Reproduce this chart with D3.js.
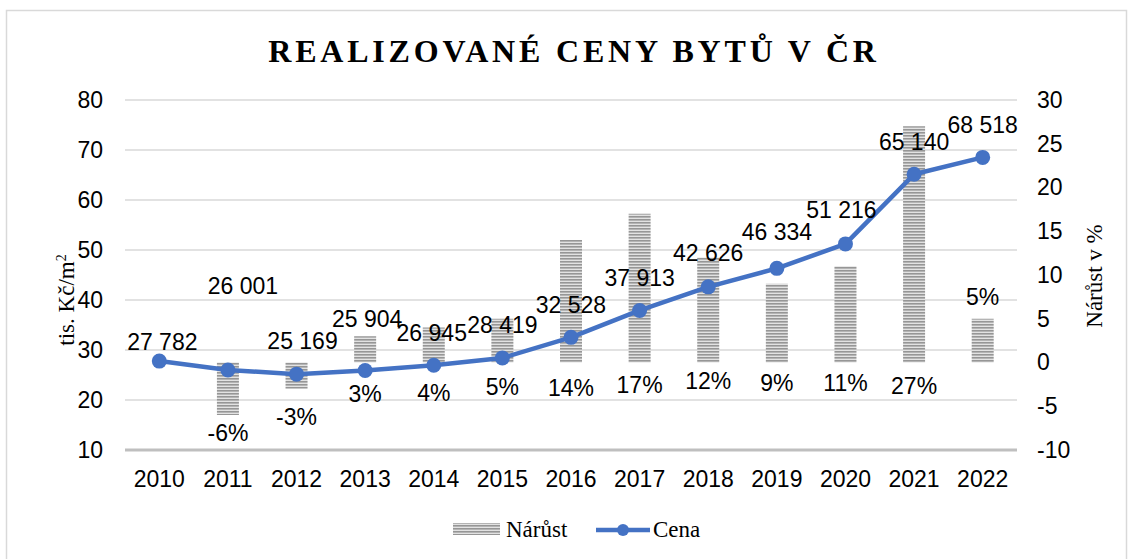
<!DOCTYPE html>
<html>
<head>
<meta charset="utf-8">
<script src="https://cdn.jsdelivr.net/npm/d3@7"></script>
<style>
  body { margin: 0; background: #fff; }
  svg text { fill: #000; }
  .sans { font-family: "Liberation Sans", Arial, sans-serif; }
  .serif { font-family: "Liberation Serif", "Times New Roman", serif; }
</style>
</head>
<body>
<svg id="chart"></svg>
<script>
const years   = ['2010','2011','2012','2013','2014','2015','2016','2017','2018','2019','2020','2021','2022'];
const prices  = [27782, 26001, 25169, 25904, 26945, 28419, 32528, 37913, 42626, 46334, 51216, 65140, 68518];
const growth  = [null, -6, -3, 3, 4, 5, 14, 17, 12, 9, 11, 27, 5];
const leftTicks  = [10, 20, 30, 40, 50, 60, 70, 80];
const rightTicks = [-10, -5, 0, 5, 10, 15, 20, 25, 30];

// label nudges (pixels), the original labels were dragged by hand
const priceDy = [-19, -84, -33, -52, -32, -33, -32, -32, -34, -36, -34, -32, -32];
const priceDx = [3, 15, 6, 2, -2, 0, 0, 0, 0, 0, -4, 0, 0];
const pctDy   = [0, 70, 54, 31, 30, 24, 25, 22, 18, 20, 20, 23, -66];

const W = 1130, H = 559;
const svg = d3.select('#chart').attr('width', W).attr('height', H);

const plot = {left: 125, right: 1017, top: 100, bottom: 450};

const x = d3.scaleBand().domain(years).range([plot.left, plot.right]);
const yL = d3.scaleLinear().domain([10, 80]).range([plot.bottom, plot.top]);
const yR = d3.scaleLinear().domain([-10, 30]).range([plot.bottom, plot.top]);

// stripe pattern for the bars
const defs = svg.append('defs');
const pat = defs.append('pattern')
  .attr('id', 'stripes')
  .attr('patternUnits', 'userSpaceOnUse')
  .attr('width', 6).attr('height', 3);
pat.append('rect').attr('width', 6).attr('height', 3).attr('fill', '#e2e2e2');
pat.append('rect').attr('width', 6).attr('height', 1.6).attr('fill', '#969696');

// outer frame
svg.append('rect')
  .attr('x', 6.5).attr('y', 10.5)
  .attr('width', 1120).attr('height', 560)
  .attr('fill', 'none')
  .attr('stroke', '#d9d9d9')
  .attr('stroke-width', 1.5);

// title
svg.append('text')
  .attr('class', 'serif')
  .attr('x', 574).attr('y', 62)
  .attr('text-anchor', 'middle')
  .style('font-size', '32px')
  .style('font-weight', 'bold')
  .style('letter-spacing', '3.8px')
  .text('REALIZOVANÉ CENY BYTŮ V ČR');

// gridlines
svg.append('g')
  .selectAll('line')
  .data(leftTicks.slice(1))
  .join('line')
  .attr('x1', plot.left).attr('x2', plot.right)
  .attr('y1', d => yL(d)).attr('y2', d => yL(d))
  .attr('stroke', '#d9d9d9')
  .attr('stroke-width', 1.3);

const plain = d => String(d);

// left axis
const axL = svg.append('g')
  .attr('transform', `translate(${plot.left},0)`)
  .call(d3.axisLeft(yL).tickValues(leftTicks).tickFormat(plain).tickSize(0).tickPadding(22));
axL.select('.domain').remove();
axL.selectAll('text').attr('class', 'sans').style('font-size', '23px').attr('font-family', null);

// right axis
const axR = svg.append('g')
  .attr('transform', `translate(${plot.right},0)`)
  .call(d3.axisRight(yR).tickValues(rightTicks).tickFormat(plain).tickSize(0).tickPadding(20));
axR.select('.domain').remove();
axR.selectAll('text').attr('class', 'sans').style('font-size', '23px').attr('font-family', null);

// bars
svg.append('g')
  .selectAll('rect')
  .data(years.map((y, i) => ({year: y, v: growth[i]})).filter(d => d.v !== null))
  .join('rect')
  .attr('x', d => x(d.year) + x.bandwidth() / 2 - 11)
  .attr('width', 22)
  .attr('y', d => yR(Math.max(0, d.v)))
  .attr('height', d => Math.abs(yR(d.v) - yR(0)))
  .attr('fill', 'url(#stripes)');

// bottom axis line
svg.append('line')
  .attr('x1', plot.left).attr('x2', plot.right)
  .attr('y1', plot.bottom).attr('y2', plot.bottom)
  .attr('stroke', '#bfbfbf')
  .attr('stroke-width', 3);

// year labels
const axB = svg.append('g')
  .attr('transform', `translate(0,${plot.bottom})`)
  .call(d3.axisBottom(x).tickSize(0).tickPadding(21));
axB.select('.domain').remove();
axB.selectAll('text').attr('class', 'sans').style('font-size', '23px').attr('font-family', null);

// price line
const cx = d => x(d) + x.bandwidth() / 2;
const line = d3.line()
  .x((d, i) => cx(years[i]))
  .y(d => yL(d / 1000));

svg.append('path')
  .datum(prices)
  .attr('d', line)
  .attr('fill', 'none')
  .attr('stroke', '#4472c4')
  .attr('stroke-width', 4.5)
  .attr('stroke-linejoin', 'round');

svg.append('g')
  .selectAll('circle')
  .data(prices)
  .join('circle')
  .attr('cx', (d, i) => cx(years[i]))
  .attr('cy', d => yL(d / 1000))
  .attr('r', 7.5)
  .attr('fill', '#4472c4');

// price labels
const fmt = d => d3.format(',')(d).replace(',', ' ');
svg.append('g')
  .selectAll('text')
  .data(prices)
  .join('text')
  .attr('class', 'sans')
  .attr('x', (d, i) => cx(years[i]) + priceDx[i])
  .attr('y', (d, i) => yL(d / 1000) + priceDy[i])
  .attr('dy', '0.35em')
  .attr('text-anchor', 'middle')
  .style('font-size', '23px')
  .text(fmt);

// growth labels
svg.append('g')
  .selectAll('text')
  .data(growth.map((v, i) => ({v, i})).filter(d => d.v !== null))
  .join('text')
  .attr('class', 'sans')
  .attr('x', d => cx(years[d.i]))
  .attr('y', d => yR(0) + pctDy[d.i])
  .attr('dy', '0.35em')
  .attr('text-anchor', 'middle')
  .style('font-size', '23px')
  .text(d => d.v + '%');

// axis titles
const tL = svg.append('text')
  .attr('class', 'serif')
  .attr('transform', 'translate(74,300) rotate(-90)')
  .attr('text-anchor', 'middle')
  .style('font-size', '23px');
tL.append('tspan').text('tis. Kč/m');
tL.append('tspan').attr('dy', '-8').style('font-size', '14px').text('2');

svg.append('text')
  .attr('class', 'serif')
  .attr('transform', 'translate(1102,276) rotate(-90)')
  .attr('text-anchor', 'middle')
  .style('font-size', '23px')
  .text('Nárůst v %');

// legend
const lg = svg.append('g');
lg.append('rect')
  .attr('x', 453).attr('y', 523)
  .attr('width', 47).attr('height', 12)
  .attr('fill', 'url(#stripes)');
lg.append('text')
  .attr('class', 'serif')
  .attr('x', 506).attr('y', 537)
  .style('font-size', '23px')
  .text('Nárůst');
lg.append('line')
  .attr('x1', 596).attr('x2', 650)
  .attr('y1', 530).attr('y2', 530)
  .attr('stroke', '#4472c4')
  .attr('stroke-width', 4.5);
lg.append('circle')
  .attr('cx', 623).attr('cy', 530).attr('r', 6)
  .attr('fill', '#4472c4');
lg.append('text')
  .attr('class', 'serif')
  .attr('x', 653).attr('y', 537)
  .style('font-size', '23px')
  .text('Cena');
</script>
</body>
</html>
